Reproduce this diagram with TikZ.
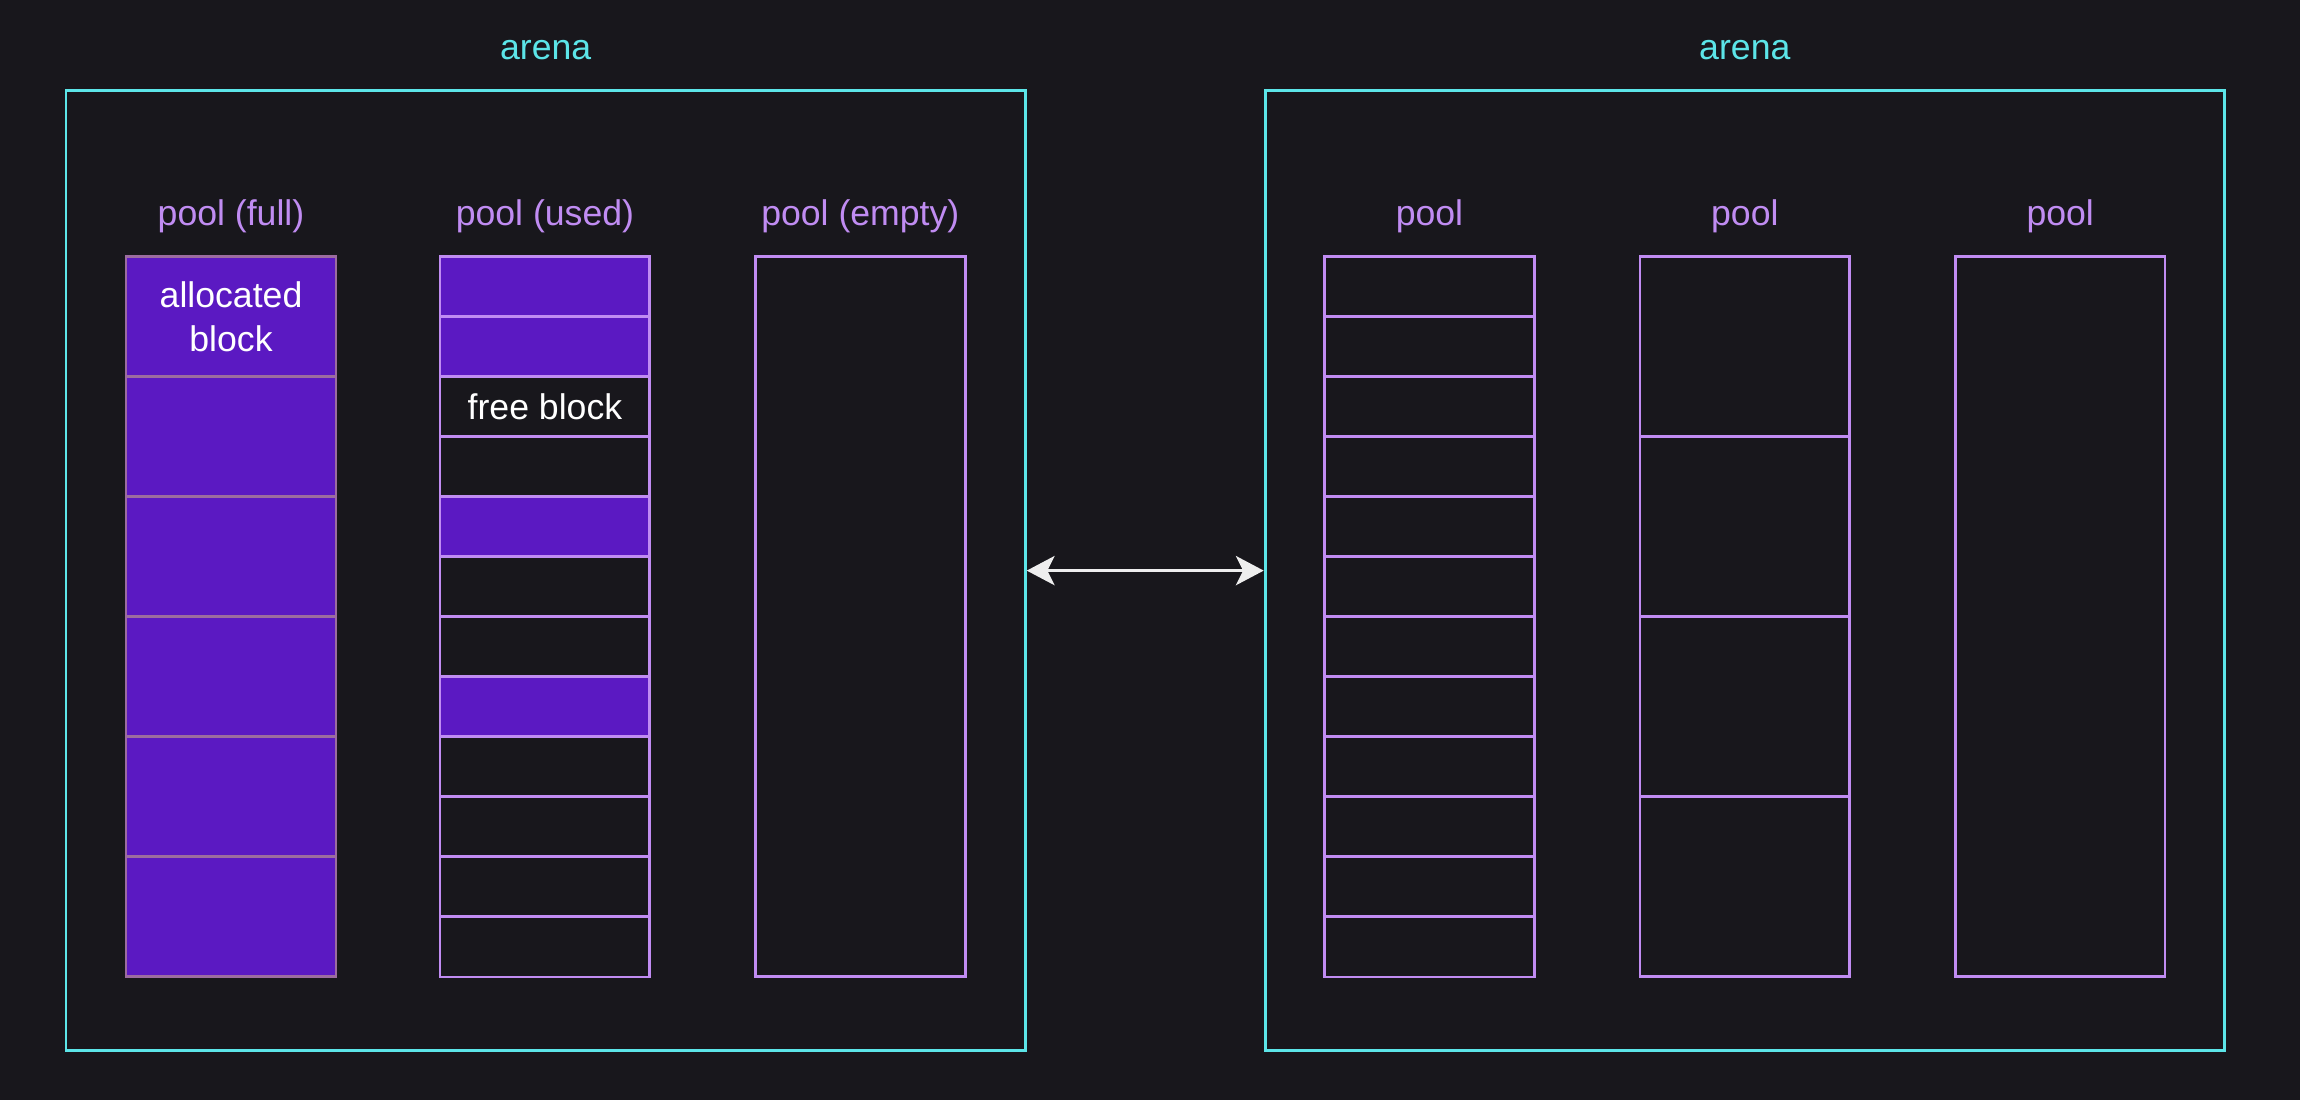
\documentclass[tikz,border=0pt]{standalone}
\usepackage{fontspec}
\setmainfont{Liberation Sans}
\usetikzlibrary{arrows.meta,positioning}
\definecolor{bg}{HTML}{18171C}
\definecolor{arenacyan}{HTML}{5CE5E8}
\definecolor{poolline}{HTML}{C08CF2}
\definecolor{blockfill}{HTML}{5B19C2}
\definecolor{fullline}{HTML}{9C6C9F}
\definecolor{linkcol}{HTML}{EEEEEE}
\tikzset{
  arenabox/.style={draw=arenacyan, line width=2pt, minimum width=654pt, minimum height=654pt, inner sep=0pt},
  blk/.style={draw=poolline, line width=1.8pt, minimum width=143pt, inner sep=0pt, anchor=north},
  lbl/.style={font=\fontsize{24.3}{29.6}\selectfont, anchor=base, inner sep=0pt},
}
\begin{document}
\begin{tikzpicture}[x=1pt,y=-1pt]
\fill[bg] (0,0) rectangle (1568,750);
\useasboundingbox (0,0) rectangle (1568,750);

% arenas
\node[arenabox] (arenaL) at (372,389) {};
\node[arenabox] (arenaR) at (1189.5,389) {};
\node[lbl, text=arenacyan] (arenaLlbl) at (372,40.9) {arena};
\node[lbl, text=arenacyan] (arenaRlbl) at (1189.5,40.9) {arena};
\draw[{Stealth[length=19pt,width=20pt,inset=5pt]}-{Stealth[length=19pt,width=20pt,inset=5pt]}, draw=linkcol, fill=linkcol, line width=1.8pt] (arenaL.east) -- (arenaR.west);

% left arena pools
\foreach \i in {0,...,5}
  \node[blk, draw=fullline, fill=blockfill, minimum height=81.83pt] (full\i) at (157.5,174+\i*81.83) {};
\node[lbl, text=white, align=center, anchor=center] (alloctxt) at (full0) {allocated\\block};
\node[lbl, text=poolline] (fulllbl) at (157.5,153.4) {pool (full)};

\foreach \i/\f in {0/blockfill,1/blockfill,2/bg,3/bg,4/blockfill,5/bg,6/bg,7/blockfill,8/bg,9/bg,10/bg,11/bg}
  \node[blk, fill=\f, minimum height=40.92pt] (used\i) at (371.5,174+\i*40.92) {};
\node[lbl, text=white, anchor=center] (freetxt) at (used2) {free block};
\node[lbl, text=poolline] (usedlbl) at (371.5,153.4) {pool (used)};

\node[blk, minimum height=491pt] (empty0) at (586.5,174) {};
\node[lbl, text=poolline] (emptylbl) at (586.5,153.4) {pool (empty)};

% right arena pools
\foreach \i in {0,...,11}
  \node[blk, minimum height=40.92pt] (small\i) at (974.5,174+\i*40.92) {};
\node[lbl, text=poolline] (smalllbl) at (974.5,153.4) {pool};

\foreach \i in {0,...,3}
  \node[blk, minimum height=122.75pt] (mid\i) at (1189.5,174+\i*122.75) {};
\node[lbl, text=poolline] (midlbl) at (1189.5,153.4) {pool};

\node[blk, minimum height=491pt] (big0) at (1404.5,174) {};
\node[lbl, text=poolline] (biglbl) at (1404.5,153.4) {pool};
\end{tikzpicture}
\end{document}
